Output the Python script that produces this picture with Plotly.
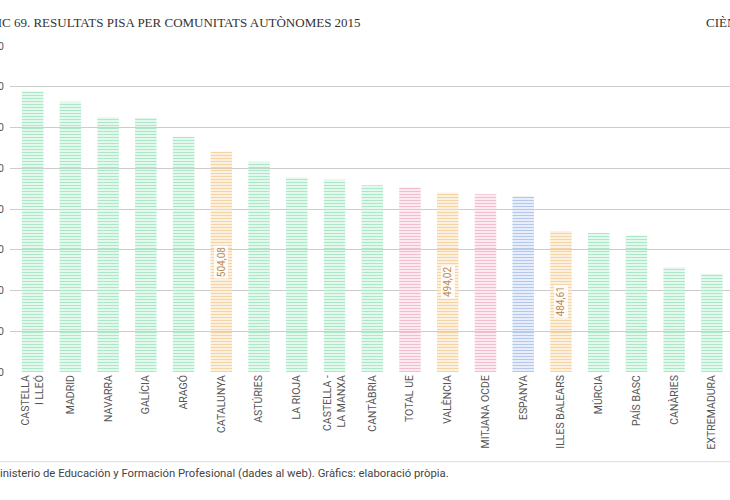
import plotly.graph_objects as go

# dades: puntuació PISA 2015 (ciències) per comunitat
comunitats = ["CASTELLA<br>I LLEÓ", "MADRID", "NAVARRA", "GALÍCIA", "ARAGÓ", "CATALUNYA",
              "ASTÚRIES", "LA RIOJA", "CASTELLA -<br>LA MANXA", "CANTÀBRIA", "TOTAL UE",
              "VALÈNCIA", "MITJANA OCDE", "ESPANYA", "ILLES BALEARS", "MÚRCIA",
              "PAÍS BASC", "CANÀRIES", "EXTREMADURA"]
puntuacio = [518.9, 516.3, 512.5, 512.4, 507.7, 504.08, 501.6, 497.7, 497.2, 495.8, 495.3,
             494.02, 493.6, 493.1, 484.61, 484.1, 483.5, 475.7, 474.1]
grup = ["ca", "ca", "ca", "ca", "ca", "pc", "ca", "ca", "ca", "ca", "ref",
        "pc", "ref", "es", "pc", "ca", "ca", "ca", "ca"]
etiquetes = {"CATALUNYA": "504,08", "VALÈNCIA": "494,02", "ILLES BALEARS": "484,61"}
eix_min, eix_max = 450, 530
ticks_y = [450, 460, 470, 480, 490, 500, 510, 520, 530]

# colors (línia fosca, fons clar)
colors = {
    "ca": ("#45c584", "#a9e9c8"),
    "pc": ("#eba447", "#f6d4a2"),
    "ref": ("#db6893", "#f3bcd0"),
    "es": ("#5a82ca", "#b5c8ec"),
}

fg = [colors[g][0] for g in grup]
bg = [colors[g][1] for g in grup]

fig = go.Figure()
fig.add_trace(go.Bar(
    x=comunitats, y=puntuacio,
    marker=dict(color=bg, line=dict(width=0),
                pattern=dict(shape="-", fgcolor=fg, bgcolor=bg, size=3,
                             solidity=0.55, fillmode="replace")),
    hoverinfo="x+y",
    showlegend=False,
))

# etiquetes de valor al mig de la barra
for nom, txt in etiquetes.items():
    i = comunitats.index(nom)
    fig.add_annotation(x=nom, y=(eix_min + puntuacio[i]) / 2, text=txt, textangle=-90,
                       showarrow=False, font=dict(family="Roboto", size=10, color="#b88a55"),
                       bgcolor="rgba(255,255,255,0.85)", borderpad=1)

# títol, tallat com a la imatge original
fig.add_annotation(xref="paper", yref="paper", x=0.4903, y=1.0706, xanchor="right",
                   yanchor="middle", showarrow=False,
                   text="GRÀFIC 69. RESULTATS PISA PER COMUNITATS AUTÒNOMES 2015",
                   font=dict(family="Liberation Serif", size=13, color="#333333"))
fig.add_annotation(xref="paper", yref="paper", x=0.9639, y=1.0706, xanchor="left",
                   yanchor="middle", showarrow=False, text="CIÈNCIES",
                   font=dict(family="Liberation Serif", size=13, color="#333333"))

# font
fig.add_annotation(xref="paper", yref="paper", x=0.6125, y=-0.3107, xanchor="right",
                   yanchor="middle", showarrow=False,
                   text="Font: Ministerio de Educación y Formación Profesional (dades al web). Gràfics: elaboració pròpia.",
                   font=dict(family="Roboto", size=11.3, color="#444444"))
fig.add_shape(type="line", xref="paper", yref="paper", x0=-0.02, x1=1.0, y0=-0.275, y1=-0.275,
              line=dict(color="#ead8cc", width=1))

fig.update_layout(
    width=730, height=500,
    margin=dict(l=10, r=0, t=46, b=128, autoexpand=False),
    paper_bgcolor="white", plot_bgcolor="white",
    bargap=0.43,
    font=dict(family="Roboto", color="#555555"),
    xaxis=dict(range=[-0.6, 18.48], tickangle=-90, showgrid=False, ticks="",
               automargin=False, tickfont=dict(size=10.5, color="#555555"),
               fixedrange=True),
    yaxis=dict(range=[eix_min, eix_max], tickvals=ticks_y, showgrid=True,
               gridcolor="#cccccc", gridwidth=1, zeroline=False, ticks="",
               automargin=False, ticklabelstandoff=5,
               tickfont=dict(size=10.5, color="#555555"), fixedrange=True),
)

fig.write_html("out.html", config={"displayModeBar": False},
               post_script="document.body.style.margin='0';document.body.style.overflow='hidden';")
